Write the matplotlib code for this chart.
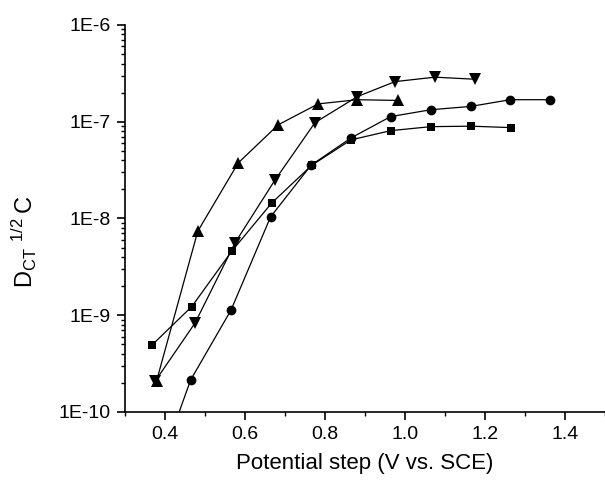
import numpy as np
import matplotlib
matplotlib.use("Agg")
import matplotlib.pyplot as plt
from matplotlib.ticker import LogLocator, MultipleLocator, FixedFormatter, FixedLocator

plt.rcParams['font.family'] = ['Liberation Sans', 'DejaVu Sans']

# squares
x_sq = [0.367, 0.467, 0.567, 0.667, 0.767, 0.865, 0.965, 1.065, 1.165, 1.265]
y_sq = [4.9e-10, 1.23e-9, 4.6e-9, 1.45e-8, 3.55e-8, 6.5e-8, 8.1e-8, 8.9e-8, 9.0e-8, 8.7e-8]

# circles (first point lies below the axis)
x_ci = [0.364, 0.464, 0.565, 0.664, 0.765, 0.865, 0.964, 1.064, 1.164, 1.263, 1.363]
y_ci = [1.5e-11, 2.14e-10, 1.13e-9, 1.04e-8, 3.55e-8, 6.8e-8, 1.13e-7, 1.33e-7, 1.44e-7, 1.69e-7, 1.69e-7]

# up triangles
x_up = [0.379, 0.482, 0.583, 0.683, 0.783, 0.881, 0.982]
y_up = [2.1e-10, 7.4e-9, 3.75e-8, 9.3e-8, 1.53e-7, 1.69e-7, 1.66e-7]

# down triangles
x_dn = [0.376, 0.475, 0.575, 0.675, 0.775, 0.881, 0.975, 1.075, 1.175]
y_dn = [2.1e-10, 8.3e-10, 5.6e-9, 2.5e-8, 9.8e-8, 1.82e-7, 2.6e-7, 2.89e-7, 2.75e-7]

y_ticks = [1e-10, 1e-9, 1e-8, 1e-7, 1e-6]
y_tick_labels = ["1E-10", "1E-9", "1E-8", "1E-7", "1E-6"]

fig = plt.figure(figsize=(6.05, 4.86), dpi=100)
ax = fig.add_axes([125 / 605, 74 / 486, 480 / 605, 387 / 486])

style = dict(color="black", lw=0.9, markeredgewidth=0)
ax.plot(x_sq, y_sq, marker="s", ms=6, **style)
ax.plot(x_ci, y_ci, marker="o", ms=7, **style)
ax.plot(x_up, y_up, marker="^", ms=8, **style)
ax.plot(x_dn, y_dn, marker="v", ms=8, **style)

ax.set_yscale("log")
ax.set_xlim(0.3, 1.5)
ax.set_ylim(1e-10, 1e-6)

ax.xaxis.set_major_locator(MultipleLocator(0.2))
ax.xaxis.set_minor_locator(MultipleLocator(0.1))
ax.xaxis.set_major_formatter(plt.FuncFormatter(lambda v, p: f"{v:.1f}"))
ax.yaxis.set_major_locator(FixedLocator(y_ticks))
ax.yaxis.set_major_formatter(FixedFormatter(y_tick_labels))
ax.yaxis.set_minor_locator(LogLocator(base=10, subs=np.arange(2, 10)))
ax.yaxis.set_minor_formatter(plt.NullFormatter())

for s in ["top", "right"]:
    ax.spines[s].set_visible(False)
for s in ["left", "bottom"]:
    ax.spines[s].set_linewidth(1.2)

ax.tick_params(which="major", direction="out", length=6, width=1.2, labelsize=14, pad=4)
ax.tick_params(which="minor", direction="out", length=3, width=1.0)

ax.set_xlabel("Potential step (V vs. SCE)", fontsize=16, labelpad=7)
ax.set_ylabel(r"$\mathregular{D_{CT}\;^{1/2}\,C}$", fontsize=17)
ax.yaxis.set_label_coords(-0.18, 0.44)

fig.savefig("out.png", dpi=100)
